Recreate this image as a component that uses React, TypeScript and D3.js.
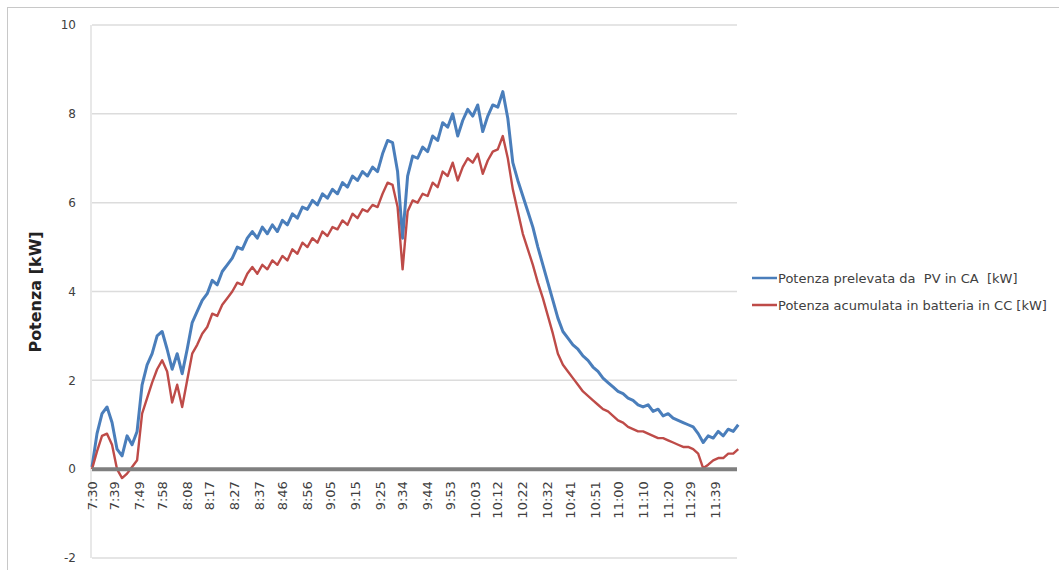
import React from "react";
import * as d3 from "d3";

const tickLabels = ["7:30","7:39","7:49","7:58","8:08","8:17","8:27","8:37","8:46","8:56","9:05","9:15","9:25","9:34","9:44","9:53","10:03","10:12","10:22","10:32","10:41","10:51","11:00","11:10","11:20","11:29","11:39"];
const yTicks = [-2, 0, 2, 4, 6, 8, 10];
const seriesNames = ["Potenza prelevata da  PV in CA  [kW]", "Potenza acumulata in batteria in CC [kW]"];
const seriesColors = ["#4a7ebb", "#be4b48"];
const sampleStepMin = 2;

const pvCA = [0.05,0.8,1.25,1.4,1.05,0.45,0.3,0.75,0.55,0.85,
1.9,2.35,2.6,3.0,3.1,2.7,2.25,2.6,2.15,2.7,
3.3,3.55,3.8,3.95,4.25,4.15,4.45,4.6,4.75,5.0,
4.95,5.2,5.35,5.2,5.45,5.3,5.5,5.35,5.6,5.5,
5.75,5.65,5.9,5.85,6.05,5.95,6.2,6.1,6.3,6.2,
6.45,6.35,6.6,6.5,6.7,6.6,6.8,6.7,7.1,7.4,
7.35,6.7,5.2,6.6,7.05,7.0,7.25,7.15,7.5,7.4,
7.8,7.7,8.0,7.5,7.85,8.1,7.95,8.2,7.6,7.95,
8.2,8.15,8.5,7.9,6.9,6.5,6.15,5.8,5.45,5.0,
4.6,4.2,3.8,3.4,3.1,2.95,2.8,2.7,2.55,2.45,
2.3,2.2,2.05,1.95,1.85,1.75,1.7,1.6,1.55,1.45,
1.4,1.45,1.3,1.35,1.2,1.25,1.15,1.1,1.05,1.0,
0.95,0.8,0.6,0.75,0.7,0.85,0.75,0.9,0.85,1.0];

const battCC = [0.0,0.4,0.75,0.8,0.55,0.0,-0.2,-0.1,0.05,0.2,
1.25,1.6,1.95,2.25,2.45,2.2,1.5,1.9,1.4,2.0,
2.6,2.8,3.05,3.2,3.5,3.45,3.7,3.85,4.0,4.2,
4.15,4.4,4.55,4.4,4.6,4.5,4.7,4.6,4.8,4.7,
4.95,4.85,5.1,5.0,5.2,5.1,5.35,5.25,5.45,5.4,
5.6,5.5,5.75,5.65,5.85,5.8,5.95,5.9,6.2,6.45,
6.4,5.9,4.5,5.8,6.05,6.0,6.2,6.15,6.45,6.35,
6.7,6.6,6.9,6.5,6.8,7.0,6.9,7.1,6.65,6.95,
7.15,7.2,7.5,7.0,6.3,5.8,5.3,4.95,4.6,4.2,
3.85,3.45,3.05,2.6,2.35,2.2,2.05,1.9,1.75,1.65,
1.55,1.45,1.35,1.3,1.2,1.1,1.05,0.95,0.9,0.85,
0.85,0.8,0.75,0.7,0.7,0.65,0.6,0.55,0.5,0.5,
0.45,0.35,0.02,0.1,0.2,0.25,0.25,0.35,0.35,0.45];

const toMin = (s: string) => {
  const [h, m] = s.split(":").map(Number);
  return h * 60 + m - (7 * 60 + 30);
};

export default function App() {
  const W = 1059, H = 570;
  const x = d3.scaleLinear().domain([0, 257.5]).range([92, 737]);
  const y = d3.scaleLinear().domain([-2, 10]).range([558, 25]);
  const line = d3.line<number>().x((_, i) => x(i * sampleStepMin)).y((d) => y(d));
  const series = [pvCA, battCC];
  const font = "'DejaVu Sans', 'Liberation Sans', sans-serif";
  return (
    <svg width={W} height={H} style={{ position: "absolute", left: 0, top: 0, background: "#fff" }} fontFamily={font}>
      <rect x={7.5} y={7.5} width={W} height={H} fill="#fff" stroke="#c8c8c8" />
      {yTicks.map((t) => (
        <g key={t}>
          {t !== 0 && <line x1={x(0)} x2={x(257.5)} y1={y(t)} y2={y(t)} stroke="#dcdcdc" strokeWidth={1.5} />}
          <text x={76} y={y(t)} dy="0.35em" textAnchor="end" fontSize={12} fill="#404040">{t}</text>
        </g>
      ))}
      <line x1={x(0) - 1} x2={x(0) - 1} y1={y(10)} y2={y(-2)} stroke="#e0e0e0" strokeWidth={1.5} />
      {series.map((s, k) => (
        <path key={k} d={line(s) || ""} fill="none" stroke={seriesColors[k]} strokeWidth={k === 0 ? 3 : 2.4} strokeLinejoin="round" />
      ))}
      <line x1={x(0)} x2={x(257.5)} y1={y(0)} y2={y(0)} stroke="#7f7f7f" strokeWidth={4} />
      {tickLabels.map((l) => (
        <text key={l} transform={`translate(${x(toMin(l))},${y(0) + 12}) rotate(-90)`} dy="0.35em" textAnchor="end" fontSize={13} fill="#404040">{l}</text>
      ))}
      <text transform={`translate(41,${292}) rotate(-90)`} textAnchor="middle" fontSize={16} fontWeight="bold" fill="#222">Potenza [kW]</text>
      {seriesNames.map((n, k) => (
        <g key={n} transform={`translate(752,${278 + k * 27})`}>
          <line x1={0} x2={25} y1={0} y2={0} stroke={seriesColors[k]} strokeWidth={2.5} />
          <text x={26} y={0} dy="0.35em" fontSize={13} fill="#404040" style={{ whiteSpace: "pre" }}>{n}</text>
        </g>
      ))}
    </svg>
  );
}
